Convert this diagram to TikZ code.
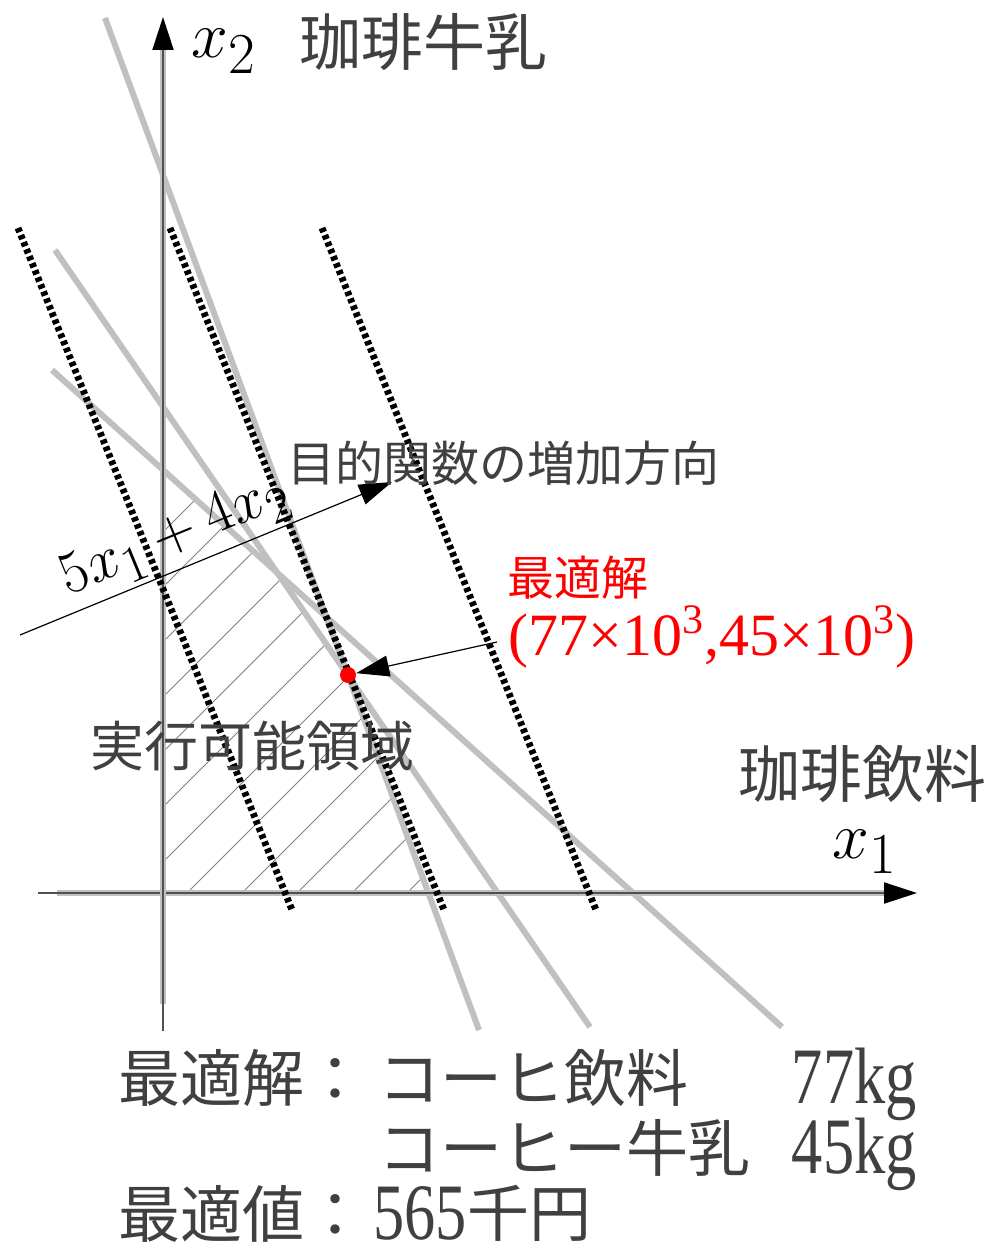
\RequirePackage{fix-cm}
\documentclass[tikz,border=0pt]{standalone}
\usepackage{fontspec}
\usepackage{tikz}
\usetikzlibrary{arrows.meta, positioning}
\newfontfamily\jpfont{Noto Sans CJK JP}
\newfontfamily\numfont{Liberation Serif}
\newcommand{\lsub}[2]{_{\mbox{\fontsize{#1}{#1}\selectfont #2}}}
\definecolor{constgray}{RGB}{192,192,192}
\definecolor{labelgray}{RGB}{64,64,64}
\definecolor{axisgray}{RGB}{80,80,80}
\tikzset{>={Triangle[length=16.5pt, width=10.5pt, color=black]}}
\tikzset{
  constraint/.style={constgray, line width=3pt},
  isoline/.style={black, line width=3.4pt, dash pattern=on 2.2pt off 1.6pt},
  axisband/.style={constgray, line width=3pt},
  axisline/.style={axisgray, line width=1pt},
  hatchline/.style={gray, line width=0.4pt},
  pointer/.style={black, line width=0.6pt, ->},
  jplabel/.style={labelgray, inner sep=0pt, font=\jpfont\fontsize{#1}{#1}\selectfont},
  numlabel/.style={labelgray, inner sep=0pt, xscale=0.78, font=\numfont\fontsize{40pt}{40pt}\selectfont},
  mathlabel/.style={black, inner sep=0pt, font=\fontsize{#1}{#1}\selectfont}
}

\begin{document}
\begin{tikzpicture}[x=0.5pt, y=-0.5pt]
  \useasboundingbox (0,0) rectangle (993,1247);
  \coordinate (O) at (163,893);
  \coordinate (p1) at (428.6,893);
  \coordinate (p12) at (348,675);
  \coordinate (p23) at (277.9,573.3);
  \coordinate (p3) at (163,469.9);
  \begin{scope}
    \clip (O) -- (p1) -- (p12) -- (p23) -- (p3) -- cycle;
    \foreach \k in {-8,...,5}
      \draw[hatchline] ({187+55*\k},893) -- ++(500,-500);
  \end{scope}
  \draw[constraint] (105,18) -- (479,1030);
  \draw[constraint] (55,250) -- (590,1027);
  \draw[constraint] (52,370) -- (782,1027);
  \draw[axisband] (57,893) -- (885,893);
  \draw[axisline, ->] (38,893) -- (917,893);
  \draw[axisband] (163,1004) -- (163,49);
  \draw[axisline, ->] (163,1031) -- (163,17);
  \draw[isoline] (18,228) -- (292,910);
  \draw[isoline] (170,228) -- (444,910);
  \draw[isoline] (322,228) -- (596,910);

  \node[circle, fill=red, inner sep=0pt, minimum size=8pt] (opt) at (p12) {};
  \coordinate (dir-s) at (20,635);
  \coordinate (dir-e) at (392,482);
  \draw[pointer] (dir-s) -- (dir-e)
    node[pos=0.45, above=2pt, sloped, mathlabel=30pt] (obj) {$5x\lsub{26pt}{1}+4x\lsub{26pt}{2}$};
  \coordinate (ptr-s) at (497,642);
  \draw[pointer] (ptr-s) -- (opt);

  \node[mathlabel=33pt, anchor=base west] (x2) at (191,58) {$x\lsub{29pt}{2}$};
  \node[mathlabel=33pt, anchor=base west] (x1) at (832,858) {$x\lsub{29pt}{1}$};
  \node[jplabel=31pt] (milk) at (423,42) {珈琲牛乳};
  \node[jplabel=31pt] (drink) at (862,774) {珈琲飲料};
  \node[jplabel=24pt] (incr) at (503,463) {目的関数の増加方向};
  \node[jplabel=23.5pt, red] (optname) at (578,578) {最適解};
  \node[red, inner sep=0pt, font=\numfont\fontsize{30pt}{30pt}\selectfont] (optval)
    at (712,637) {(77×10\textsuperscript{3},45×10\textsuperscript{3})};
  \node[jplabel=27pt] (feas) at (252,746) {実行可能領域};

  \node[jplabel=31pt, anchor=west] (sol) at (118,1078) {最適解：};
  \node[jplabel=31pt, anchor=west] (sol1) at (378,1078) {コーヒ飲料};
  \node[numlabel, anchor=base east] (kg1) at (917,1103) {77kg};
  \node[jplabel=31pt, anchor=west] (sol2) at (378,1148) {コーヒー牛乳};
  \node[numlabel, anchor=base east] (kg2) at (917,1173) {45kg};
  \node[jplabel=31pt, anchor=west] (val) at (118,1214) {最適値：};
  \node[numlabel, anchor=base west] (yen) at (373,1239) {565};
  \node[jplabel=31pt, right=0pt of yen] (unit) {千円};
\end{tikzpicture}
\end{document}
